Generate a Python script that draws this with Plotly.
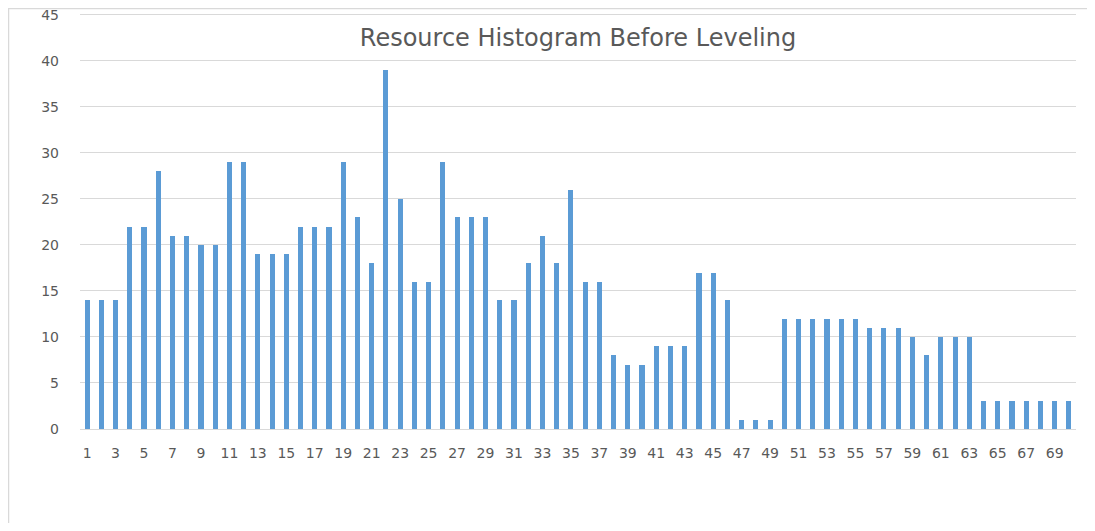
import plotly.graph_objects as go

categories = list(range(1, 71))
resources = [14, 14, 14, 22, 22, 28, 21, 21, 20, 20,
             29, 29, 19, 19, 19, 22, 22, 22, 29, 23,
             18, 39, 25, 16, 16, 29, 23, 23, 23, 14,
             14, 18, 21, 18, 26, 16, 16, 8, 7, 7,
             9, 9, 9, 17, 17, 14, 1, 1, 1, 12,
             12, 12, 12, 12, 12, 11, 11, 11, 10, 8,
             10, 10, 10, 3, 3, 3, 3, 3, 3, 3]
tick_labels = [str(c) for c in categories[::2]]
y_ticks = [0, 5, 10, 15, 20, 25, 30, 35, 40, 45]

fig = go.Figure()
fig.add_trace(go.Bar(x=categories, y=resources, width=0.36,
                     marker=dict(color="#5B9BD5", line=dict(width=0))))

# page has an 8px body margin; figure sized/offset to compensate
fig.update_layout(
    width=1087, height=515,
    margin=dict(l=72, r=19, t=5, b=94, autoexpand=False),
    paper_bgcolor="white", plot_bgcolor="white",
    showlegend=False,
    font=dict(family="DejaVu Sans", color="#595959"),
    title=dict(text="Resource Histogram Before Leveling",
               x=0.5, xref="paper", xanchor="center",
               y=0.94, yref="paper", yanchor="middle",
               font=dict(size=24, color="#595959", family="DejaVu Sans")),
    bargap=0,
)
fig.update_xaxes(range=[0.5, 70.5], tickvals=categories[::2], ticktext=tick_labels,
                 showgrid=False, showline=True, linecolor="#D9D9D9", linewidth=1,
                 ticks="", automargin=False, ticklabelstandoff=11,
                 tickfont=dict(size=14, family="DejaVu Sans", color="#595959"),
                 zeroline=False)
fig.update_yaxes(range=[0, 45.2], tickvals=y_ticks, showgrid=True, gridcolor="#D9D9D9",
                 gridwidth=1, zeroline=False, showline=False, ticks="",
                 automargin=False, ticklabelstandoff=20, ticklabeloverflow="allow",
                 tickfont=dict(size=14, family="DejaVu Sans", color="#595959"))

fig.add_shape(type="rect", xref="paper", yref="paper",
              x0=-0.0718, x1=1.0141, y0=-0.3, y1=1.011,
              line=dict(color="#D9D9D9", width=1.5), fillcolor="rgba(0,0,0,0)", layer="below")

fig.write_html("out.html")
